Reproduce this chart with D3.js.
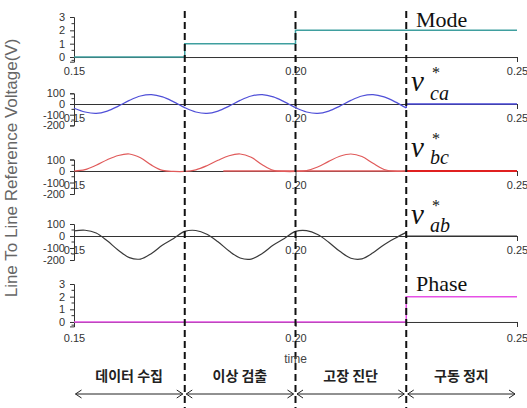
<!DOCTYPE html>
<html>
<head>
<meta charset="utf-8">
<script src="https://cdn.jsdelivr.net/npm/d3@7"></script>
<style>
  body { margin: 0; background: #fff; }
  svg { display: block; }
</style>
</head>
<body>
<svg id="chart" width="527" height="408"></svg>
<script>
// Sample times of the reference waveforms while the drive is running (s)
const timeWave = [0.15, 0.1525, 0.155, 0.1575, 0.16, 0.1625, 0.165, 0.1675, 0.17, 0.1725,
                  0.175, 0.1775, 0.18, 0.1825, 0.185, 0.1875, 0.19, 0.1925, 0.195, 0.1975,
                  0.2, 0.2025, 0.205, 0.2075, 0.21, 0.2125, 0.215, 0.2175, 0.22, 0.2225, 0.225];
// Line-to-line reference voltages (V)
const vCa = [-40, -75, -88, -66, -20, 34, 75, 88, 66, 20,
             -34, -75, -88, -66, -20, 34, 75, 88, 66, 20,
             -34, -75, -88, -66, -20, 34, 75, 88, 66, 20, -38];
const vBc = [0, 12, 50, 98, 135, 148, 115, 51, 5, -4,
             -4, 10, 46, 93, 133, 148, 119, 54, 5, -4,
             -4, 4, 35, 84, 128, 148, 126, 67, 13, -4, 0];
const vAb = [42, 48, 25, -40, -118, -180, -192, -145, -75, -20,
             38, 46, 15, -48, -125, -183, -192, -145, -75, -20,
             38, 45, 12, -52, -128, -185, -190, -140, -72, -18, 30];
// After the stop command every reference is held at zero
const stopTime = [0.225, 0.25];
const stopValue = [0, 0];
// Zero hold of v_bc
const bcHoldTime = [0.1837, 0.25];
const bcHoldValue = [0, 0];
// Operating mode and phase flags
const modeTime = [0.15, 0.175, 0.2, 0.25];
const modeValue = [0, 1, 2, 2];
const phaseTime = [0.15, 0.225, 0.25];
const phaseValue = [0, 2, 2];
// Stages of the sequence
const stageBounds = [0.15, 0.175, 0.2, 0.225, 0.25];
const stageNames = ["데이터 수집", "이상 검출", "고장 진단", "구동 정지"];
// Axis ticks
const xTickValues = [0.15, 0.2, 0.25];
const xTickLabels = ["0.15", "0.20", "0.25"];
const flagTicks = [0, 1, 2, 3];
const flagMinor = [-0.25, 0.5, 1.5, 2.5];
const voltTicks = [-200, -100, 0, 100];
const voltMinor = [-150, -50, 50];

const svg = d3.select("#chart");
const x = d3.scaleLinear().domain([0.15, 0.25]).range([74, 517]);

const panels = [
  { domain: [-0.35, 3], range: [61.7, 17], ticks: flagTicks, minor: flagMinor, pad: 5 },
  { domain: [-200, 100], range: [125.4, 93.3], ticks: voltTicks, minor: voltMinor, pad: 5 },
  { domain: [-200, 100], range: [194, 159.5], ticks: voltTicks, minor: voltMinor, pad: 5 },
  { domain: [-200, 100], range: [260, 224], ticks: voltTicks, minor: voltMinor, pad: 5 },
  { domain: [-0.35, 3], range: [326.4, 284], ticks: flagTicks, minor: flagMinor, pad: 7 }
];
panels.forEach(p => { p.y = d3.scaleLinear().domain(p.domain).range(p.range); });

const zip = (ts, vs) => ts.map((t, i) => ({ t, v: vs[i] }));

// Axes of each panel
panels.forEach(p => {
  const gy = svg.append("g").attr("transform", "translate(74,0)")
    .call(d3.axisLeft(p.y).tickValues(p.ticks).tickSize(4).tickPadding(5)
      .tickFormat(d => String(d)));
  gy.selectAll("text").attr("font-family", "Liberation Sans, Arial, sans-serif")
    .attr("font-size", 11).attr("fill", "#333");
  gy.selectAll("line, path").attr("stroke", "#333");
  gy.selectAll(".minor").data(p.minor).enter().append("line")
    .attr("x1", -2.5).attr("x2", 0)
    .attr("y1", d => p.y(d)).attr("y2", d => p.y(d))
    .attr("stroke", "#333");

  const gx = svg.append("g").attr("transform", `translate(0,${p.y(0)})`)
    .call(d3.axisBottom(x).tickValues(xTickValues).tickSize(5).tickPadding(p.pad)
      .tickFormat((d, i) => xTickLabels[i]));
  gx.selectAll("text").attr("font-family", "Liberation Sans, Arial, sans-serif")
    .attr("font-size", 11).attr("fill", "#333");
  gx.selectAll("line, path").attr("stroke", "#333");
});

// Traces
const P = panels;
const lineFor = (y, curve) => d3.line().x(d => x(d.t)).y(d => y(d.v)).curve(curve);

svg.append("path").datum(zip(modeTime, modeValue))
  .attr("d", lineFor(P[0].y, d3.curveStepAfter))
  .attr("fill", "none").attr("stroke", "#3f9f9f").attr("stroke-width", 1.5);

function wave(panel, values, color, stopColor, stopWidth) {
  const pts = zip(timeWave, values);
  svg.append("path").datum(pts)
    .attr("d", lineFor(panel.y, d3.curveCatmullRom))
    .attr("fill", "none").attr("stroke", color).attr("stroke-width", 1.2);
  const last = pts[pts.length - 1];
  const held = [last].concat(zip(stopTime, stopValue));
  svg.append("path").datum(held)
    .attr("d", lineFor(panel.y, d3.curveLinear))
    .attr("fill", "none").attr("stroke", stopColor).attr("stroke-width", stopWidth);
}

wave(P[1], vCa, "#5050d8", "#4848d8", 1.4);
svg.append("path").datum(zip(bcHoldTime, bcHoldValue))
  .attr("d", lineFor(P[2].y, d3.curveLinear))
  .attr("fill", "none").attr("stroke", "#e05a5a").attr("stroke-width", 1.3);
wave(P[2], vBc, "#e05a5a", "#e02020", 2);
wave(P[3], vAb, "#3a3a3a", "#333", 1.2);

svg.append("path").datum(zip(phaseTime, phaseValue))
  .attr("d", lineFor(P[4].y, d3.curveStepAfter))
  .attr("fill", "none").attr("stroke", "#e650e6").attr("stroke-width", 1.5);

// Stage boundaries
svg.selectAll(".bound").data(stageBounds.slice(1, -1)).enter().append("line")
  .attr("x1", d => x(d)).attr("x2", d => x(d))
  .attr("y1", 11).attr("y2", 408)
  .attr("stroke", "#111").attr("stroke-width", 2).attr("stroke-dasharray", "7,4");

// Trace names
const serif = "Liberation Serif, Times New Roman, serif";
function plainName(txt, xp, yp) {
  svg.append("text").attr("x", xp).attr("y", yp).text(txt)
    .attr("font-family", serif).attr("font-size", 22).attr("fill", "#111");
}
function voltName(sub, vb, subDy) {
  svg.append("text").attr("x", 411).attr("y", vb).text("v")
    .attr("font-family", serif).attr("font-style", "italic")
    .attr("font-size", 29).attr("fill", "#111");
  svg.append("text").attr("x", 432).attr("y", vb - 13).text("*")
    .attr("font-family", serif).attr("font-size", 16).attr("fill", "#111");
  svg.append("text").attr("x", 430).attr("y", vb + subDy).text(sub)
    .attr("font-family", serif).attr("font-style", "italic")
    .attr("font-size", 20).attr("fill", "#111");
}
plainName("Mode", 416, 27);
voltName("ca", 91, 9);
voltName("bc", 157, 7);
voltName("ab", 224, 8);
plainName("Phase", 416, 291);

// Axis titles
svg.append("text")
  .attr("transform", "translate(17,168) rotate(-90)")
  .attr("text-anchor", "middle")
  .attr("font-family", "Liberation Sans, Arial, sans-serif")
  .attr("font-size", 17).attr("fill", "#666")
  .text("Line To Line Reference Voltage(V)");
svg.append("text").attr("x", x(0.2)).attr("y", 363).attr("text-anchor", "middle")
  .attr("font-family", "Liberation Sans, Arial, sans-serif")
  .attr("font-size", 12).attr("fill", "#444").text("time");

// Stage arrows and names
const ay = 394;
stageNames.forEach((name, i) => {
  const x0 = x(stageBounds[i]) + 1.5, x1 = x(stageBounds[i + 1]) - 2;
  const g = svg.append("g").attr("fill", "none").attr("stroke", "#222").attr("stroke-width", 1);
  g.append("line").attr("x1", x0).attr("x2", x1).attr("y1", ay).attr("y2", ay);
  g.append("path").attr("d", `M${x0 + 6},${ay - 4}L${x0},${ay}L${x0 + 6},${ay + 4}`);
  g.append("path").attr("d", `M${x1 - 6},${ay - 4}L${x1},${ay}L${x1 - 6},${ay + 4}`);
  svg.append("text").attr("x", (x0 + x1) / 2).attr("y", 381)
    .attr("text-anchor", "middle")
    .attr("font-family", "Noto Sans CJK KR, sans-serif")
    .attr("font-size", 14).attr("font-weight", 700).attr("fill", "#222")
    .text(name);
});
</script>
</body>
</html>
